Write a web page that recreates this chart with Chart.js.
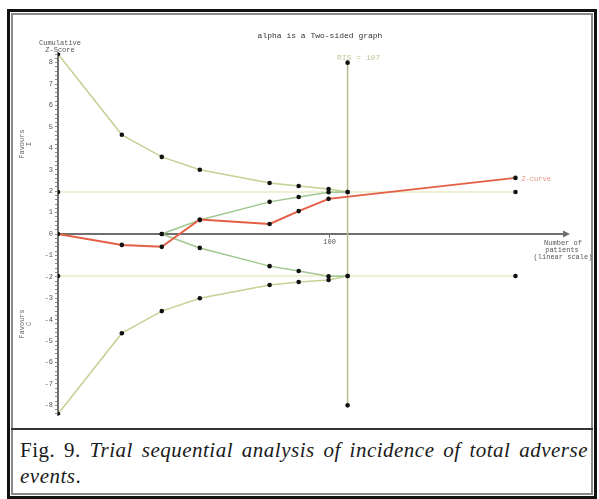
<!DOCTYPE html>
<html>
<head>
<meta charset="utf-8">
<script src="https://cdn.jsdelivr.net/npm/chart.js@4/dist/chart.umd.min.js"></script>
<style>
    html, body { margin: 0; padding: 0; background: #fff; }
    body { width: 599px; height: 499px; position: relative; overflow: hidden; }
    .box { position: absolute; box-sizing: border-box; }
    #outer { left: 7px; top: 9px; width: 590px; height: 490px; border: 3px solid #111; }
    #inner { left: 11px; top: 13px; width: 582px; height: 482px; border: 2px solid #8a8a8a; }
    #sep { left: 11px; top: 428px; width: 582px; height: 2px; background: #333; }
    #chart { position: absolute; left: 0; top: 0; }
    #caption { position: absolute; left: 20px; top: 437px; width: 568px;
               font-family: "Liberation Serif", serif; font-size: 21px; line-height: 26px;
               letter-spacing: 0.5px; color: #1a1a1a; }
    #caption .l1 { text-align: justify; text-align-last: justify; white-space: nowrap; }
    #caption i { font-style: italic; }
</style>
</head>
<body>
<div class="box" id="outer"></div>
<div class="box" id="inner"></div>
<div class="box" id="sep"></div>
<canvas id="chart" width="599" height="428"></canvas>
<div id="caption">
    <div class="l1">Fig. 9. <i>Trial sequential analysis of incidence of total adverse</i></div>
    <div><i>events</i>.</div>
</div>
<script>
    "use strict";

    // cumulative number of patients (x) and z-values
    const zPatients = [0, 23.5, 38.2, 52.2, 77.9, 88.6, 99.6, 168.4];
    const zCurve = [0, -0.51, -0.6, 0.68, 0.47, 1.07, 1.64, 2.62];

    const boundaryPatients = [0, 23.5, 38.2, 52.2, 77.9, 88.6, 99.6, 106.6];
    const upperBoundary = [8.4, 4.63, 3.6, 3.0, 2.38, 2.24, 2.1, 1.96];
    const lowerBoundary = [-8.4, -4.63, -3.6, -3.0, -2.38, -2.24, -2.15, -1.96];

    const futilityPatients = [38.2, 52.2, 77.9, 88.6, 99.6, 106.6];
    const upperFutility = [0, 0.65, 1.5, 1.73, 1.95, 1.96];
    const lowerFutility = [0, -0.65, -1.5, -1.73, -1.97, -1.96];

    const conventionalPatients = [0, 168.4];
    const conventionalUpper = [1.96, 1.96];
    const conventionalLower = [-1.96, -1.96];

    const risPatients = [106.6, 106.6];
    const risZ = [8, -8];

    const xTicks = [100];
    const zTicks = [8, 7, 6, 5, 4, 3, 2, 1, 0, -1, -2, -3, -4, -5, -6, -7, -8];

    const titleText = "alpha is a Two-sided graph";
    const risText = "RIS = 107";

    function points(xs, ys) {
        return xs.map((x, i) => ({ x: x, y: ys[i] }));
    }

    function series(data, color, width) {
        return {
            data: data,
            borderColor: color,
            borderWidth: width,
            pointRadius: 2.3,
            pointBackgroundColor: '#111',
            pointBorderWidth: 0,
            fill: false,
            tension: 0,
        };
    }

    const mono = '"Liberation Mono", monospace';

    const annotate = {
        id: 'annotate',
        afterDraw(chart) {
            const ctx = chart.ctx;
            const area = chart.chartArea;
            const x = chart.scales.x;
            const y = chart.scales.y;
            const y0 = y.getPixelForValue(0);
            ctx.save();

            // arrow head at the end of the x axis
            ctx.fillStyle = '#6f6f6f';
            ctx.beginPath();
            ctx.moveTo(area.right + 4, y0);
            ctx.lineTo(area.right - 3, y0 - 3.5);
            ctx.lineTo(area.right - 3, y0 + 3.5);
            ctx.closePath();
            ctx.fill();

            ctx.textAlign = 'center';
            ctx.textBaseline = 'middle';

            ctx.font = '8px ' + mono;
            ctx.fillStyle = '#333';
            ctx.fillText(titleText, 320, 36);

            ctx.fillStyle = '#c4c49a';
            ctx.fillText(risText, x.getPixelForValue(risPatients[0]) + 11, 58);

            ctx.font = '7px ' + mono;
            ctx.fillStyle = '#555';
            ctx.fillText('Cumulative', area.left + 2, 43);
            ctx.fillText('Z-Score', area.left + 2, 50);

            const right = area.right - 3;
            ctx.fillText('Number of', right, 243);
            ctx.fillText('patients', right - 1, 250);
            ctx.fillText('(linear scale)', right, 257);

            ctx.fillStyle = '#e79686';
            ctx.textAlign = 'left';
            const last = zCurve.length - 1;
            ctx.fillText('Z-curve', x.getPixelForValue(zPatients[last]) + 6,
                y.getPixelForValue(zCurve[last]) + 1);

            // rotated "Favours" labels
            ctx.fillStyle = '#666';
            ctx.textAlign = 'center';
            [[4.2, 'I'], [-4.2, 'C']].forEach(([z, arm]) => {
                ctx.save();
                ctx.translate(25, y.getPixelForValue(z));
                ctx.rotate(-Math.PI / 2);
                ctx.fillText('Favours', 0, -3);
                ctx.fillText(arm, 0, 4);
                ctx.restore();
            });

            ctx.restore();
        }
    };

    const ctx = document.getElementById('chart').getContext('2d');
    new Chart(ctx, {
        type: 'line',
        data: {
            datasets: [
                series(points(zPatients, zCurve), '#e35f45', 2),
                series(points(futilityPatients, upperFutility), '#9fc78f', 1.5),
                series(points(futilityPatients, lowerFutility), '#9fc78f', 1.5),
                series(points(boundaryPatients, upperBoundary), '#c2d394', 1.5),
                series(points(boundaryPatients, lowerBoundary), '#c2d394', 1.5),
                series(points(risPatients, risZ), '#b8bc86', 1.5),
                series(points(conventionalPatients, conventionalUpper), '#f0f0d4', 2),
                series(points(conventionalPatients, conventionalLower), '#f0f0d4', 2),
            ]
        },
        options: {
            responsive: false,
            animation: false,
            layout: { padding: { left: 0, right: 33, top: 53, bottom: 13 } },
            plugins: { legend: { display: false }, tooltip: { enabled: false } },
            scales: {
                x: {
                    type: 'linear',
                    position: { y: 0 },
                    min: 0,
                    max: 187,
                    border: { color: '#6f6f6f', width: 2 },
                    grid: { drawOnChartArea: false, tickLength: 3, color: '#6f6f6f' },
                    ticks: { font: { family: mono, size: 7 }, color: '#555', padding: 1, maxRotation: 0 },
                    afterBuildTicks: (scale) => { scale.ticks = xTicks.map(v => ({ value: v })); },
                    afterFit: (scale) => { scale.height = 0; },
                },
                y: {
                    type: 'linear',
                    position: 'left',
                    min: -8.45,
                    max: 8.45,
                    border: { color: '#6f6f6f', width: 2 },
                    grid: { drawOnChartArea: false, tickLength: 3, color: '#8a8a8a' },
                    ticks: {
                        autoSkip: false,
                        font: { family: mono, size: 7 },
                        color: '#555',
                        padding: 2,
                        callback: (v) => {
                            const r = Math.round(v);
                            return (Math.abs(v - r) < 1e-6 && zTicks.includes(r)) ? String(r) : '';
                        }
                    },
                    // ruler-like minor ticks every 0.2
                    afterBuildTicks: (scale) => {
                        const t = [];
                        for (let k = -42; k <= 42; k++) {
                            t.push({ value: k / 5 });
                        }
                        scale.ticks = t;
                    },
                    afterFit: (scale) => { scale.width = 58; },
                }
            }
        },
        plugins: [annotate]
    });
</script>
</body>
</html>
